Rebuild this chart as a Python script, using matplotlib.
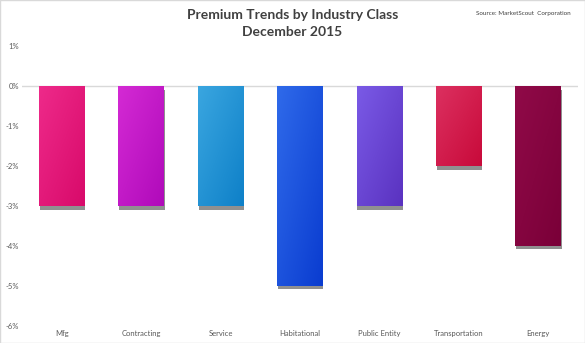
import matplotlib
matplotlib.use("Agg")
import matplotlib.pyplot as plt
import matplotlib.patheffects as pe
import matplotlib.colors as mcolors
import numpy as np

# Data
categories = ["Mfg", "Contracting", "Service", "Habitational", "Public Entity", "Transportation", "Energy"]
values = [-3, -3, -3, -5, -3, -2, -4]
colors_light = ["#EE2A8A", "#D42AD4", "#3AA6E0", "#2F6AEA", "#7A5AE6", "#DC3060", "#900A48"]
colors_dark = ["#D80A6A", "#B00ABA", "#0E80C8", "#0A3CD0", "#5A32C0", "#C80A3A", "#7A0038"]
yticks = [1, 0, -1, -2, -3, -4, -5, -6]

plt.rcParams['font.family'] = ['Lato', 'DejaVu Sans']

fig = plt.figure(figsize=(5.85, 3.43), dpi=100)
ax = fig.add_axes([0.0376, 0.0496, 0.950, 0.816])

x = np.arange(len(categories))
bars = ax.bar(x, values, width=0.57, color=colors_light, zorder=3)

# gradient + shadow for each bar
grad = np.linspace(0, 1, 64)
gx, gy = np.meshgrid(grad, grad)
for b, c1, c2 in zip(bars, colors_light, colors_dark):
    b.set_path_effects([pe.SimplePatchShadow(offset=(0.6, -2.5), shadow_rgbFace="#222222", alpha=0.5), pe.Normal()])
    cmap = mcolors.LinearSegmentedColormap.from_list("g", [c1, c2])
    x0, y0 = b.get_x(), b.get_y()
    w, h = b.get_width(), b.get_height()
    im = ax.imshow((gx + gy) / 2, cmap=cmap, extent=[x0, x0 + w, y0 + h, y0], aspect="auto", zorder=4,
                   origin="upper")
    im.set_clip_path(b)

ax.set_xlim(-0.5, len(categories) - 0.5)
ax.set_ylim(-6, 1)
ax.set_yticks(yticks)
ax.set_yticklabels([f"{t}%" for t in yticks])
ax.set_xticks(x)
ax.set_xticklabels(categories)
ax.axhline(0, color="#D9D9D9", linewidth=1, zorder=2)

for s in ax.spines.values():
    s.set_visible(False)
ax.tick_params(axis="both", length=0, labelsize=5.5, labelcolor="#595959")
ax.tick_params(axis="x", pad=3)
ax.tick_params(axis="y", pad=2)

fig.text(0.5, 0.955, "Premium Trends by Industry Class", ha="center", va="center",
         fontsize=10, fontweight="bold", color="#404040")
fig.text(0.5, 0.907, "December 2015", ha="center", va="center",
         fontsize=10, fontweight="bold", color="#404040")
fig.text(0.895, 0.96, "Source: MarketScout  Corporation", ha="center", va="center",
         fontsize=4.5, color="#404040")

fig.patches.append(plt.Rectangle((0, 0), 1, 1, transform=fig.transFigure, fill=False,
                                 edgecolor="#D9D9D9", linewidth=1))

fig.savefig("out.png", dpi=100)
